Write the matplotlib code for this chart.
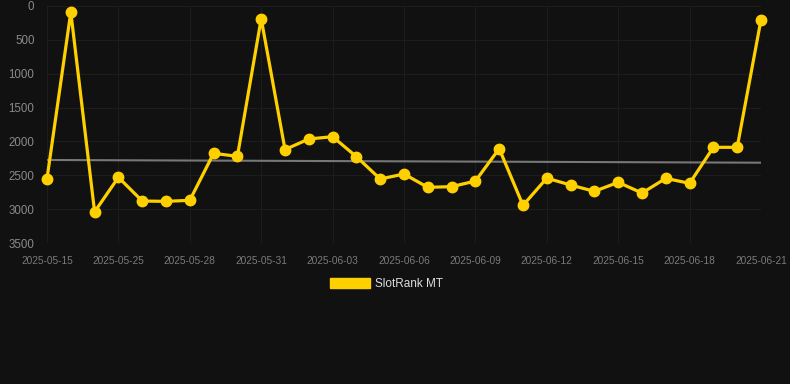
import matplotlib
matplotlib.use("Agg")
import matplotlib.pyplot as plt
from matplotlib.patches import Patch

dates = ["2025-05-15", "2025-05-18", "2025-05-21", "2025-05-25", "2025-05-26",
         "2025-05-27", "2025-05-28", "2025-05-29", "2025-05-30", "2025-05-31",
         "2025-06-01", "2025-06-02", "2025-06-03", "2025-06-04", "2025-06-05",
         "2025-06-06", "2025-06-07", "2025-06-08", "2025-06-09", "2025-06-10",
         "2025-06-11", "2025-06-12", "2025-06-13", "2025-06-14", "2025-06-15",
         "2025-06-16", "2025-06-17", "2025-06-18", "2025-06-19", "2025-06-20",
         "2025-06-21"]
ranks = [2550, 90, 3040, 2530, 2880, 2885, 2870, 2176, 2220, 187,
         2120, 1964, 1930, 2225, 2555, 2481, 2678, 2668, 2585, 2107,
         2944, 2542, 2644, 2737, 2604, 2762, 2545, 2619, 2087, 2087,
         202]
trend = [2274, 2314]
y_ticks = [0, 500, 1000, 1500, 2000, 2500, 3000, 3500]
series_name = "SlotRank MT"

bg = "#111111"
gold = "#FFD000"

fig = plt.figure(figsize=(7.9, 3.84), dpi=100, facecolor=bg)
ax = fig.add_axes([47/790, 1-243/384, (761-47)/790, (243-6)/384])
ax.set_facecolor(bg)

x = list(range(len(dates)))
ax.plot([x[0], x[-1]], trend, color="#777777", lw=1.5, zorder=2)
ax.plot(x, ranks, color=gold, lw=2.3, marker="o", markersize=7.5,
        clip_on=False, zorder=3)

ax.set_xlim(0, len(dates)-1)
ax.set_ylim(3500, 0)
ax.set_yticks(y_ticks)
ax.set_yticklabels([str(v) for v in y_ticks])
tick_idx = list(range(0, len(dates), 3))
ax.set_xticks(tick_idx)
ax.set_xticklabels([dates[i] for i in tick_idx])

for s in ax.spines.values():
    s.set_visible(False)
ax.grid(True, color="#1d1d1d", lw=0.8)
ax.set_axisbelow(True)
ax.tick_params(axis="y", length=0, pad=9, labelsize=8.3, labelcolor="#8a8a8a")
ax.tick_params(axis="x", length=0, pad=9, labelsize=7.3, labelcolor="#7a7a7a")
for lab in ax.get_xticklabels() + ax.get_yticklabels():
    lab.set_fontfamily("Liberation Sans")

handle = Patch(facecolor=gold, edgecolor=gold)
leg = fig.legend([handle], [series_name], loc="center", bbox_to_anchor=(386.5/790, 1-284/384),
                 frameon=False, handlelength=3.4, handleheight=0.9, handletextpad=0.4,
                 prop={"family": "Liberation Sans", "size": 8.5})
for t in leg.get_texts():
    t.set_color("#dddddd")

fig.savefig("out.png", dpi=100, facecolor=bg)
